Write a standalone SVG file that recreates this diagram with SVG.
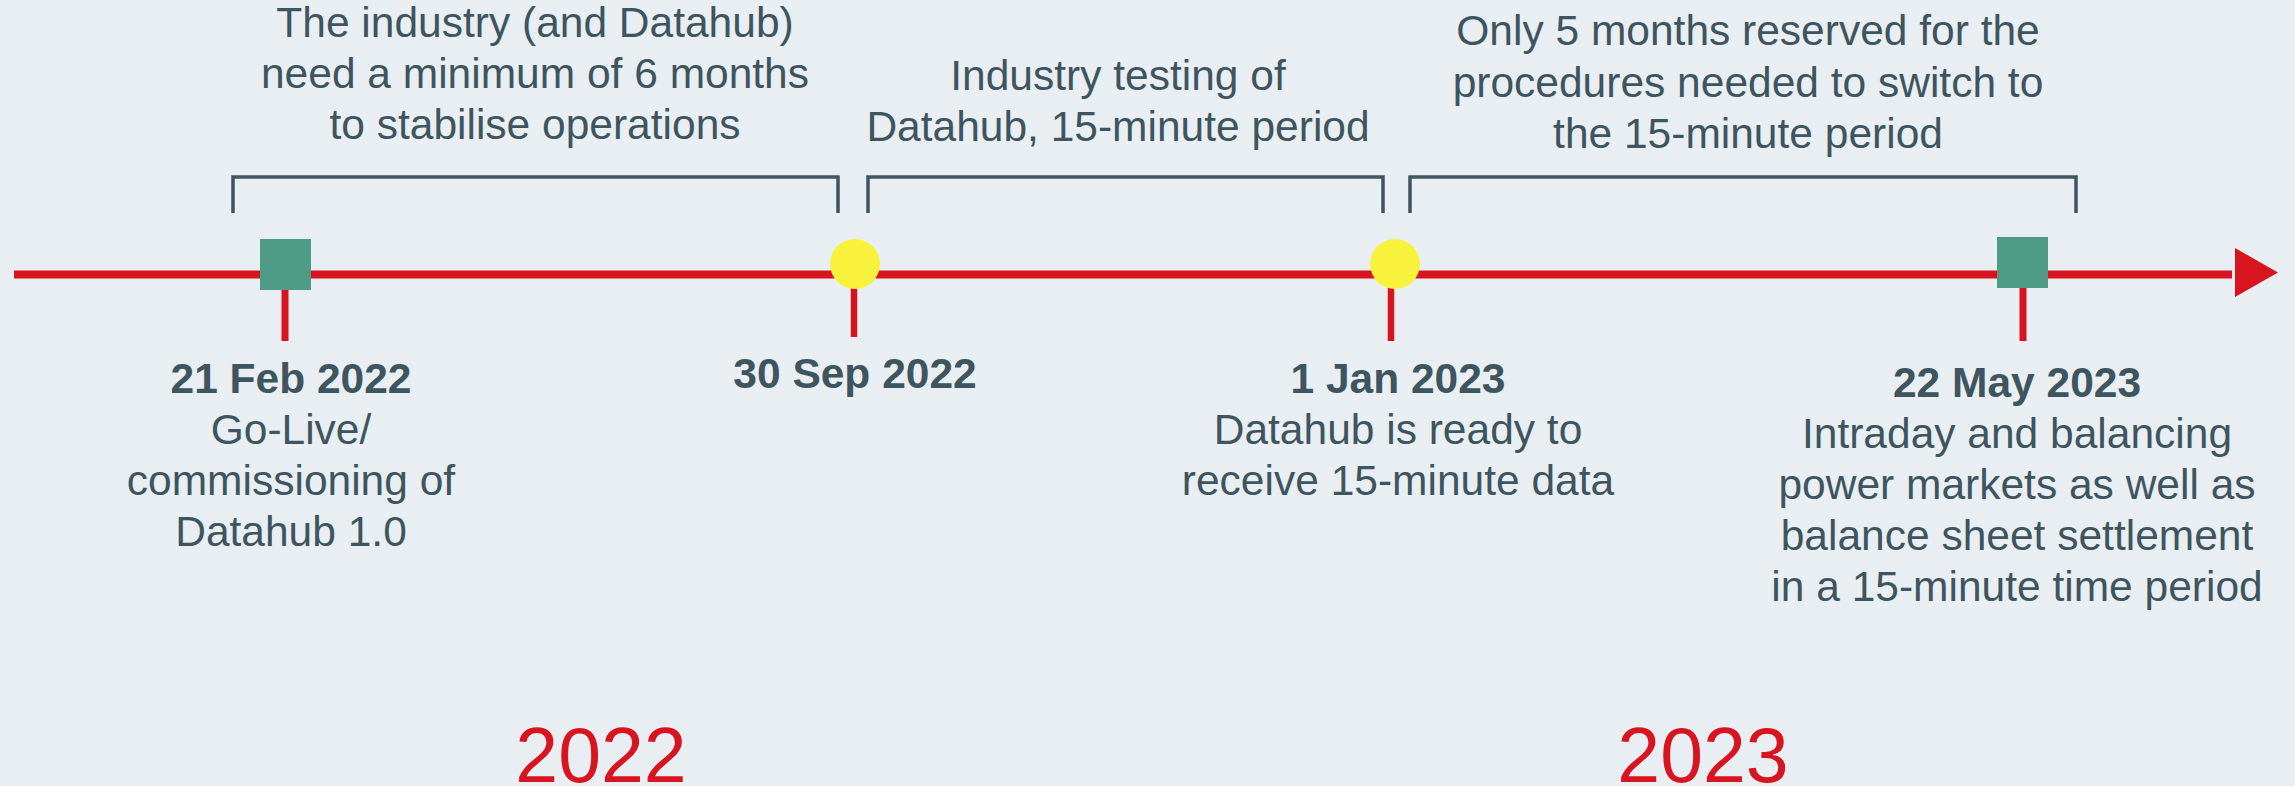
<svg xmlns="http://www.w3.org/2000/svg" width="2295" height="786" viewBox="0 0 2295 786">
<style>
.t{font-family:"Liberation Sans",Arial,sans-serif;font-size:42.5px;fill:#3E5560;text-anchor:middle}
.b{font-weight:bold}
.yr{font-family:"Liberation Sans",Arial,sans-serif;font-size:77px;fill:#D7141F;text-anchor:middle}
.br{fill:none;stroke:#3E5560;stroke-width:3.5}
.red{stroke:#D7141F;fill:none}
.sq{fill:#4E9C85}
.ci{fill:#F8F23C}
</style>
<rect width="2295" height="786" fill="#E8EEF2"/>
<g id="connectors">
<line class="red" x1="14" y1="274.5" x2="2232" y2="274.5" stroke-width="8"/>
<polygon points="2235,248 2278,272.5 2235,297" fill="#D7141F"/>
<line class="red" x1="285" y1="275" x2="285" y2="341" stroke-width="7"/>
<line class="red" x1="854" y1="275" x2="854" y2="337" stroke-width="6.5"/>
<line class="red" x1="1391" y1="275" x2="1391" y2="341" stroke-width="6.5"/>
<line class="red" x1="2023" y1="275" x2="2023" y2="341" stroke-width="7"/>
</g>
<g id="brackets">
<polyline class="br" points="233,213 233,177 838,177 838,213"/>
<polyline class="br" points="868,213 868,177 1383,177 1383,213"/>
<polyline class="br" points="1410,213 1410,177 2076,177 2076,213"/>
</g>
<g id="note1">
<text class="t" x="535" y="37">The industry (and Datahub)</text>
<text class="t" x="535" y="88">need a minimum of 6 months</text>
<text class="t" x="535" y="139">to stabilise operations</text>
</g>
<g id="note2">
<text class="t" x="1118" y="90">Industry testing of</text>
<text class="t" x="1118" y="141">Datahub, 15-minute period</text>
</g>
<g id="note3">
<text class="t" x="1748" y="45">Only 5 months reserved for the</text>
<text class="t" x="1748" y="97">procedures needed to switch to</text>
<text class="t" x="1748" y="148">the 15-minute period</text>
</g>
<g id="m1">
<rect class="sq" x="260" y="239" width="51" height="51"/>
<text class="t b" x="291" y="393">21 Feb 2022</text>
<text class="t" x="291" y="444">Go-Live/</text>
<text class="t" x="291" y="495">commissioning of</text>
<text class="t" x="291" y="546">Datahub 1.0</text>
</g>
<g id="m2">
<circle class="ci" cx="855" cy="264" r="25"/>
<text class="t b" x="855" y="388">30 Sep 2022</text>
</g>
<g id="m3">
<circle class="ci" cx="1395" cy="264" r="25"/>
<text class="t b" x="1398" y="393">1 Jan 2023</text>
<text class="t" x="1398" y="444">Datahub is ready to</text>
<text class="t" x="1398" y="495">receive 15-minute data</text>
</g>
<g id="m4">
<rect class="sq" x="1997" y="237" width="51" height="51"/>
<text class="t b" x="2017" y="397">22 May 2023</text>
<text class="t" x="2017" y="448">Intraday and balancing</text>
<text class="t" x="2017" y="499">power markets as well as</text>
<text class="t" x="2017" y="550">balance sheet settlement</text>
<text class="t" x="2017" y="601">in a 15-minute time period</text>
</g>
<g id="years">
<text class="yr" x="601" y="782">2022</text>
<text class="yr" x="1703" y="782">2023</text>
</g>
</svg>
